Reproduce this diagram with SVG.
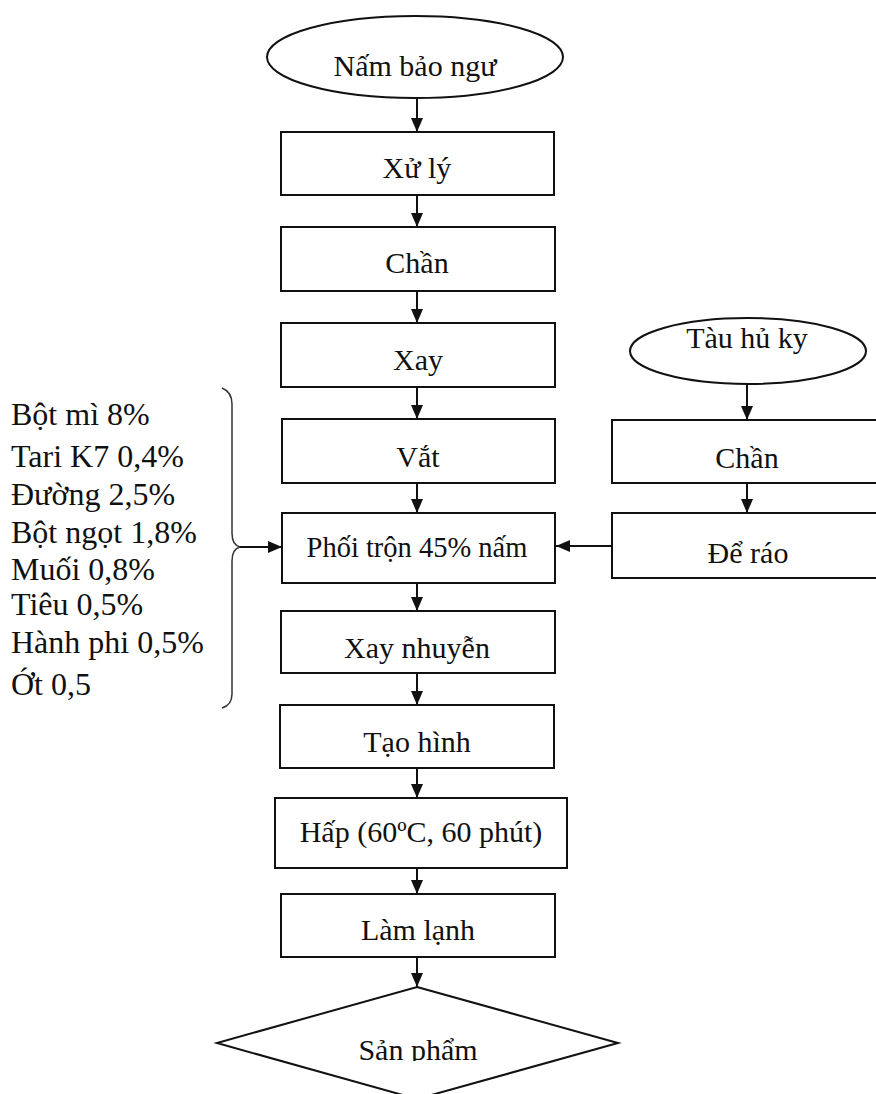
<svg xmlns="http://www.w3.org/2000/svg" width="876" height="1094" viewBox="0 0 876 1094">
<style>
.n{fill:#fff;stroke:#111;stroke-width:2}
.t{font-family:'Liberation Serif','DejaVu Serif',serif;font-size:30px;fill:#111;text-anchor:middle}
.l{font-family:'Liberation Serif','DejaVu Serif',serif;font-size:32px;fill:#111}
.c{fill:none;stroke:#111;stroke-width:2}
</style>
<defs>
<marker id="ah" markerUnits="userSpaceOnUse" markerWidth="14" markerHeight="14" refX="14" refY="7" orient="auto">
<path d="M0,1 L14,7 L0,13 Z" fill="#111"/>
</marker>
<clipPath id="cp"><rect x="0" y="0" width="876" height="1061"/></clipPath>
</defs>
<rect width="876" height="1094" fill="#fff"/>
<g id="connectors">
<line class="c" x1="417" y1="98" x2="417" y2="132" marker-end="url(#ah)"/>
<line class="c" x1="417" y1="195" x2="417" y2="227" marker-end="url(#ah)"/>
<line class="c" x1="417" y1="291" x2="417" y2="323" marker-end="url(#ah)"/>
<line class="c" x1="417" y1="387" x2="417" y2="419" marker-end="url(#ah)"/>
<line class="c" x1="417" y1="483" x2="417" y2="513" marker-end="url(#ah)"/>
<line class="c" x1="417" y1="583" x2="417" y2="611" marker-end="url(#ah)"/>
<line class="c" x1="417" y1="673" x2="417" y2="705" marker-end="url(#ah)"/>
<line class="c" x1="417" y1="768" x2="417" y2="798" marker-end="url(#ah)"/>
<line class="c" x1="417" y1="868" x2="417" y2="894" marker-end="url(#ah)"/>
<line class="c" x1="417" y1="957" x2="417" y2="987" marker-end="url(#ah)"/>
<line class="c" x1="747" y1="384" x2="747" y2="420" marker-end="url(#ah)"/>
<line class="c" x1="747" y1="483" x2="747" y2="513" marker-end="url(#ah)"/>
<line class="c" x1="612" y1="546" x2="556" y2="546" marker-end="url(#ah)"/>
<line class="c" x1="240" y1="547" x2="282" y2="547" marker-end="url(#ah)"/>
</g>
<g id="n-nam">
<ellipse class="n" cx="415" cy="57" rx="148" ry="41"/>
<text class="t" x="415" y="76">Nấm bảo ngư</text>
</g>
<g id="n-xuly">
<rect class="n" x="281" y="132" width="273" height="63"/>
<text class="t" x="417" y="178">Xử lý</text>
</g>
<g id="n-chan">
<rect class="n" x="281" y="227" width="274" height="64"/>
<text class="t" x="417" y="273">Chần</text>
</g>
<g id="n-xay">
<rect class="n" x="281" y="323" width="274" height="64"/>
<text class="t" x="418" y="370">Xay</text>
</g>
<g id="n-vat">
<rect class="n" x="282" y="419" width="273" height="64"/>
<text class="t" x="418" y="467">Vắt</text>
</g>
<g id="n-phoitron">
<rect class="n" x="282" y="513" width="273" height="70"/>
<text class="t" x="417" y="557" style="font-size:28.5px">Phối trộn 45% nấm</text>
</g>
<g id="n-xaynhuyen">
<rect class="n" x="281" y="611" width="274" height="62"/>
<text class="t" x="417" y="658">Xay nhuyễn</text>
</g>
<g id="n-taohinh">
<rect class="n" x="280" y="705" width="274" height="63"/>
<text class="t" x="417" y="752">Tạo hình</text>
</g>
<g id="n-hap">
<rect class="n" x="275" y="798" width="292" height="70"/>
<text class="t" x="421" y="842">Hấp (60ºC, 60 phút)</text>
</g>
<g id="n-lamlanh">
<rect class="n" x="281" y="894" width="274" height="63"/>
<text class="t" x="418" y="940">Làm lạnh</text>
</g>
<g id="n-sanpham">
<polygon class="n" points="417,987 618,1043 417,1099 217,1043"/>
<text class="t" x="418" y="1060" clip-path="url(#cp)">Sản phẩm</text>
</g>
<g id="n-tauhuky">
<ellipse class="n" cx="748" cy="351" rx="118" ry="33"/>
<text class="t" x="747" y="348">Tàu hủ ky</text>
</g>
<g id="n-chan2">
<rect class="n" x="612" y="420" width="280" height="63"/>
<text class="t" x="747" y="468">Chần</text>
</g>
<g id="n-derao">
<rect class="n" x="612" y="513" width="280" height="65"/>
<text class="t" x="748" y="563">Để ráo</text>
</g>
<g id="ingredients">
<text class="l" x="11" y="425">Bột mì  8%</text>
<text class="l" x="11" y="467">Tari K7 0,4%</text>
<text class="l" x="11" y="505">Đường 2,5%</text>
<text class="l" x="11" y="543">Bột ngọt 1,8%</text>
<text class="l" x="11" y="580">Muối 0,8%</text>
<text class="l" x="11" y="615">Tiêu 0,5%</text>
<text class="l" x="11" y="653">Hành phi 0,5%</text>
<text class="l" x="11" y="695">Ớt 0,5</text>
<path d="M222,388 Q232,392 232,404 L232,533 Q232,545 240,547 Q232,549 232,561 L232,694 Q232,705 222,708" fill="none" stroke="#333" stroke-width="1.5"/>
</g>
</svg>
